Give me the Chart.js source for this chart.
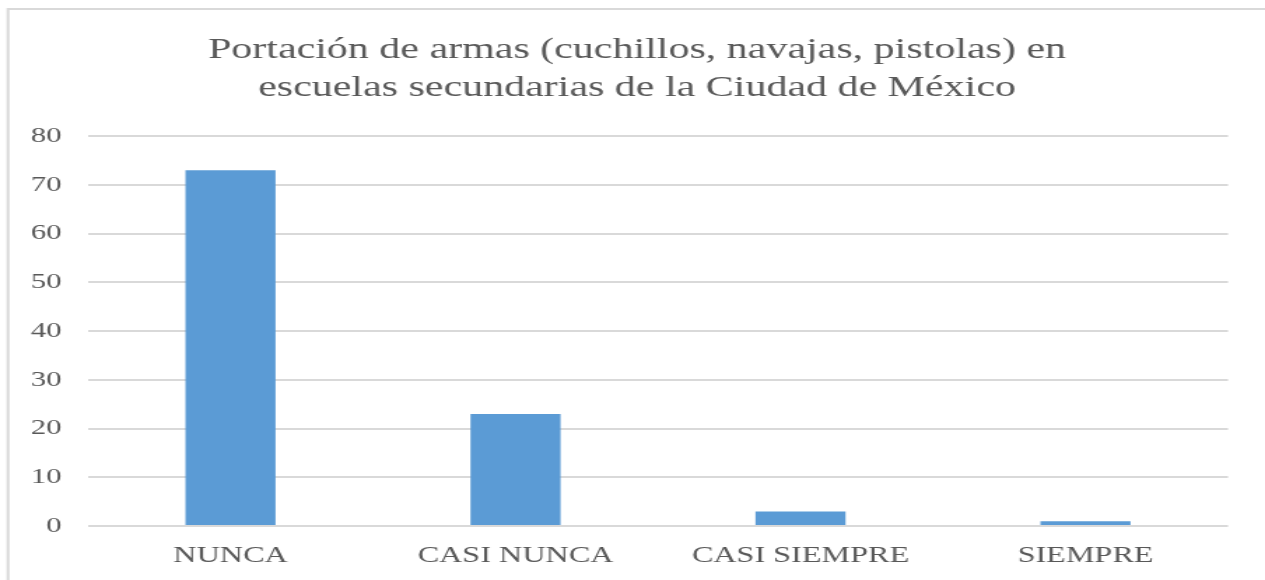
<!DOCTYPE html>
<html>
<head>
<meta charset="utf-8">
<script src="https://cdn.jsdelivr.net/npm/chart.js@4"></script>
<style>
  html, body { margin: 0; padding: 0; background: #fff; overflow: hidden; }
  #wrap { position: absolute; left: 0; top: 0; transform-origin: 0 0; }
</style>
</head>
<body>
<div id="wrap"><canvas id="c"></canvas></div>
<script>
const categories = ["NUNCA", "CASI NUNCA", "CASI SIEMPRE", "SIEMPRE"];
const values = [73, 23, 3, 1];
const titleLines = ["Portación de armas (cuchillos, navajas, pistolas) en", "escuelas secundarias de la Ciudad de México"];

const S = 1.40;               // horizontal stretch of the reference picture
const W = Math.round(1265 / S), H = 580;
const SX = 1265 / W;
const wrap = document.getElementById('wrap');
const canvas = document.getElementById('c');
canvas.width = W; canvas.height = H;
wrap.style.width = W + 'px';
wrap.style.height = H + 'px';
wrap.style.transform = 'scaleX(' + SX + ')';

const GREY = '#595959';
const FONT = '"Liberation Serif", "Times New Roman", serif';
const PADL = 9 / SX;

const frame = {
  id: 'frame',
  beforeDraw(chart) {
    const ctx = chart.ctx;
    ctx.save();
    ctx.fillStyle = '#ffffff';
    ctx.fillRect(0, 0, chart.width, chart.height);
    ctx.strokeStyle = '#d9d9d9';
    ctx.lineWidth = 2;
    ctx.strokeRect(8 / SX, 9, chart.width + 20, chart.height + 20);
    ctx.restore();
  }
};

new Chart(canvas, {
  type: 'bar',
  data: {
    labels: categories,
    datasets: [{
      data: values,
      backgroundColor: '#5b9bd5',
      borderWidth: 0,
      barPercentage: 0.316,
      categoryPercentage: 1
    }]
  },
  options: {
    responsive: false,
    animation: false,
    events: [],
    layout: { padding: { left: PADL, right: 0, top: 0, bottom: 0 } },
    plugins: {
      legend: { display: false },
      tooltip: { enabled: false },
      title: {
        display: true,
        text: titleLines,
        color: GREY,
        font: { family: FONT, size: 30, weight: 'normal', lineHeight: 1.27 },
        padding: { top: 31, bottom: 29 }
      }
    },
    scales: {
      x: {
        grid: { display: false, drawTicks: false },
        border: { display: false },
        ticks: { color: GREY, font: { family: FONT, size: 23 }, padding: 16, maxRotation: 0 },
        afterFit(scale) { scale.height = 54; }
      },
      y: {
        min: 0, max: 80,
        grid: { color: '#d9d9d9', lineWidth: 2, drawTicks: false },
        border: { display: false },
        ticks: { stepSize: 10, color: GREY, font: { family: FONT, size: 22 }, padding: 19 },
        afterFit(scale) { scale.width = 88 / SX - PADL; }
      },
      yRight: {
        position: 'right',
        min: 0, max: 80,
        grid: { display: false, drawTicks: false },
        border: { display: false },
        ticks: { display: false },
        afterFit(scale) { scale.width = W - 1228 / SX; }
      }
    }
  },
  plugins: [frame]
});
</script>
</body>
</html>
